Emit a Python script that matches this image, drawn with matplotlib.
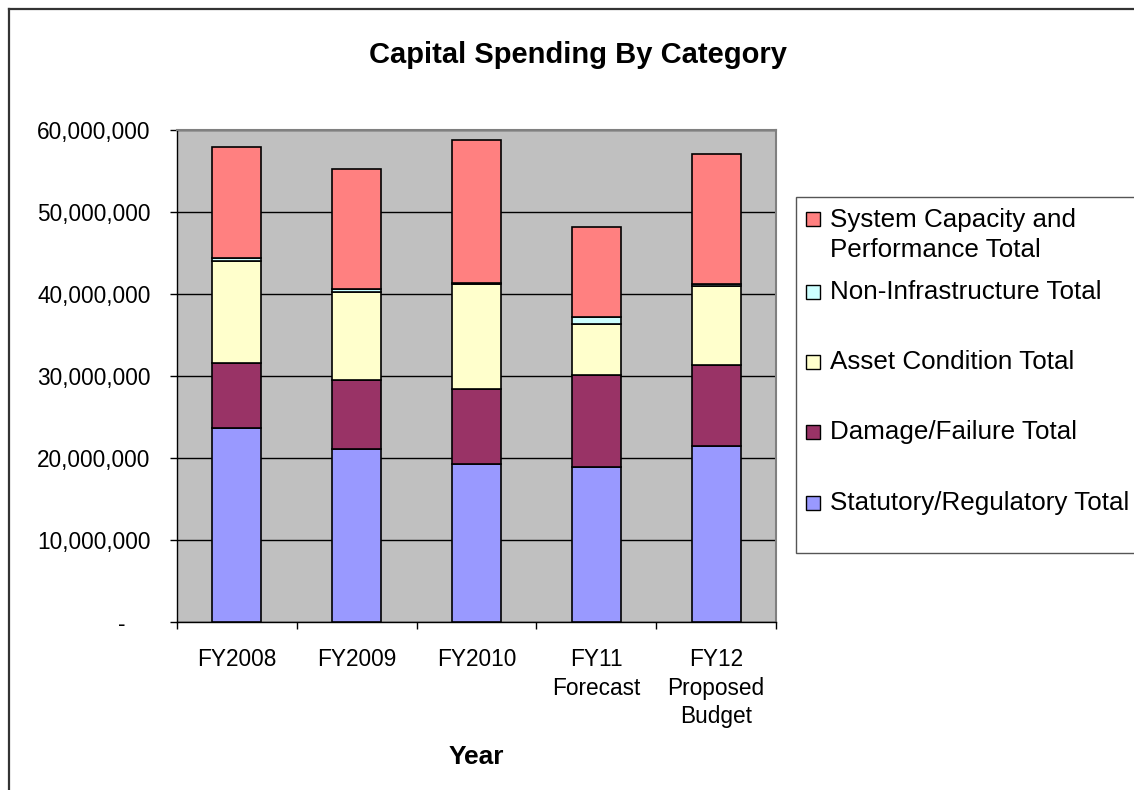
import numpy as np
import matplotlib.pyplot as plt
from matplotlib.patches import Rectangle
from matplotlib.ticker import FuncFormatter, FixedLocator

plt.rcParams['font.family'] = ['Liberation Sans', 'DejaVu Sans']

years = ["FY2008", "FY2009", "FY2010", "FY11\nForecast", "FY12\nProposed\nBudget"]
statutory = [23_700_000, 21_100_000, 19_300_000, 18_900_000, 21_500_000]
damage = [7_900_000, 8_450_000, 9_100_000, 11_200_000, 9_800_000]
asset = [12_400_000, 10_750_000, 12_850_000, 6_300_000, 9_700_000]
non_infra = [450_000, 300_000, 50_000, 750_000, 250_000]
system_cap = [13_450_000, 14_700_000, 17_500_000, 11_050_000, 15_850_000]

series = [
    ("Statutory/Regulatory Total", statutory, "#9999FF"),
    ("Damage/Failure Total", damage, "#993366"),
    ("Asset Condition Total", asset, "#FFFFCC"),
    ("Non-Infrastructure Total", non_infra, "#CCFFFF"),
    ("System Capacity and\nPerformance Total", system_cap, "#FF8080"),
]

W, H = 1134, 790
fig = plt.figure(figsize=(W / 100, H / 100), dpi=100)


def fx(x):
    return x / W


def fy(y):
    return 1 - y / H


ax = fig.add_axes([fx(177), fy(622), fx(776) - fx(177), fy(130) - fy(622)])
ax.set_facecolor("#C0C0C0")

x = np.arange(len(years))
bottom = np.zeros(len(years))
for name, vals, col in series:
    ax.bar(x, vals, width=0.41, bottom=bottom, color=col, edgecolor="black",
           linewidth=1.2, zorder=3)
    bottom += np.array(vals)

ax.set_xlim(-0.5, len(years) - 0.5)
ax.set_ylim(0, 60_000_000)
ax.set_yticks(np.arange(0, 60_000_001, 10_000_000))
ax.yaxis.set_major_formatter(FuncFormatter(lambda v, p: "-    " if v == 0 else f"{v:,.0f}"))
ax.grid(axis="y", color="black", linewidth=1.0, zorder=1)

ax.set_xticks(x)
ax.set_xticklabels(years, linespacing=1.3)
ax.xaxis.set_minor_locator(FixedLocator(np.arange(-0.5, len(years), 1.0)))
ax.tick_params(axis="x", which="major", length=0, pad=19, labelsize=16.3)
ax.tick_params(axis="x", which="minor", length=5, width=1, color="black", direction="out")
ax.tick_params(axis="y", length=5, width=1, direction="out", pad=14, labelsize=16.3)

for side in ["top", "right"]:
    ax.spines[side].set_color("#808080")
    ax.spines[side].set_linewidth(1.5)
for side in ["left", "bottom"]:
    ax.spines[side].set_color("black")
    ax.spines[side].set_linewidth(1.0)

fig.text(fx(578), fy(55), "Capital Spending By Category", ha="center", va="center",
         fontsize=21, fontweight="bold")
fig.text(fx(476), fy(757), "Year", ha="center", va="center", fontsize=19,
         fontweight="bold")

# outer chart border
fig.add_artist(plt.Line2D([fx(9), fx(9)], [fy(9), 0], color="#333333", linewidth=1.6))
fig.add_artist(plt.Line2D([fx(9), 1], [fy(9), fy(9)], color="#333333", linewidth=1.6))

# legend box
fig.add_artist(Rectangle((fx(796), fy(553)), fx(1140) - fx(796), fy(197) - fy(553),
                         transform=fig.transFigure, facecolor="white",
                         edgecolor="#555555", linewidth=1.0))
legend_y = [219, 292, 362, 432, 503]
legend_items = list(reversed(series))
for (name, vals, col), ly in zip(legend_items, legend_y):
    fig.add_artist(Rectangle((fx(806), fy(ly + 7)), fx(820) - fx(806), fy(ly - 7) - fy(ly + 7),
                             transform=fig.transFigure, facecolor=col,
                             edgecolor="black", linewidth=1.0))
    txt_y = ly + 16 if "\n" in name else ly
    fig.text(fx(830), fy(txt_y), name, ha="left", va="center", fontsize=18.7,
             linespacing=1.35)

fig.savefig("out.png", dpi=100)
